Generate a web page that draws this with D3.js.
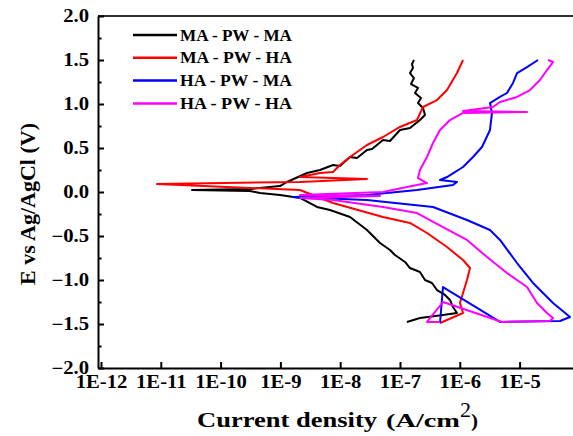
<!DOCTYPE html>
<html>
<head>
<meta charset="utf-8">
<script src="https://cdn.jsdelivr.net/npm/d3@7"></script>
<style>
  body { margin: 0; background: #fff; }
  svg text { font-family: "Liberation Serif", "Times New Roman", serif; font-weight: bold; }
  .axis path, .axis line { stroke: #000; stroke-width: 2; }
  .axis text { font-size: 18px; fill: #000; }
  .curve { fill: none; stroke-width: 2; stroke-linejoin: round; }
</style>
</head>
<body>
<div class="chart"></div>
<script>
// series: [log10 current density (A/cm2), potential (V vs Ag/AgCl)]
const seriesNames = ["MA - PW - MA", "MA - PW - HA", "HA - PW - MA", "HA - PW - HA"];
const seriesColors = ["#000000", "#ff0000", "#0000ff", "#ff00ff"];

const maPwMa = [
  [-6.883, -1.477], [-6.666, -1.432], [-6.281, -1.398], [-6.047, -1.375], [-6.114, -1.307],
  [-6.164, -1.227], [-6.247, -1.170], [-6.381, -1.114], [-6.465, -1.034], [-6.582, -1.0],
  [-6.666, -0.909], [-6.833, -0.864], [-6.916, -0.795], [-7.084, -0.716], [-7.167, -0.659],
  [-7.334, -0.580], [-7.552, -0.432], [-7.836, -0.284], [-8.171, -0.205], [-8.388, -0.170],
  [-8.672, -0.068], [-9.007, -0.034], [-9.341, -0.011], [-9.508, 0.011], [-10.478, 0.023],
  [-9.508, 0.034], [-9.007, 0.068], [-8.890, 0.114], [-8.555, 0.216], [-8.338, 0.25],
  [-8.120, 0.307], [-8.003, 0.295], [-7.836, 0.398], [-7.719, 0.386], [-7.552, 0.477],
  [-7.468, 0.489], [-7.284, 0.591], [-7.167, 0.580], [-7.0, 0.705], [-6.833, 0.727],
  [-6.666, 0.818], [-6.582, 0.875], [-6.615, 0.955], [-6.699, 1.011], [-6.649, 1.068],
  [-6.749, 1.125], [-6.699, 1.182], [-6.816, 1.227], [-6.766, 1.295], [-6.833, 1.352],
  [-6.783, 1.409], [-6.799, 1.455], [-6.766, 1.50]
];

const maPwHa = [
  [-6.331, -1.489], [-6.214, -1.455], [-5.946, -1.375], [-5.997, -1.261], [-5.946, -1.148],
  [-5.880, -1.0], [-5.829, -0.864], [-5.946, -0.773], [-6.214, -0.625], [-6.548, -0.466],
  [-6.833, -0.352], [-7.284, -0.284], [-8.120, -0.125], [-8.672, 0.023], [-11.064, 0.091],
  [-8.672, 0.114], [-7.552, 0.148], [-8.672, 0.170], [-8.338, 0.216], [-8.120, 0.227],
  [-8.003, 0.307], [-7.836, 0.398], [-7.552, 0.534], [-7.284, 0.625], [-7.0, 0.739],
  [-6.716, 0.818], [-6.615, 0.966], [-6.381, 1.045], [-6.214, 1.159], [-6.047, 1.352],
  [-5.946, 1.50]
];

const haPwMa = [
  [-6.331, -1.489], [-6.281, -1.080], [-5.328, -1.477], [-4.324, -1.466], [-4.157, -1.420],
  [-4.441, -1.261], [-4.776, -1.034], [-5.043, -0.807], [-5.328, -0.545], [-5.495, -0.432],
  [-5.880, -0.318], [-6.448, -0.170], [-7.552, -0.091], [-8.789, -0.057], [-7.552, -0.034],
  [-6.716, 0.023], [-6.114, 0.080], [-6.047, 0.114], [-6.331, 0.136], [-6.214, 0.170],
  [-5.946, 0.284], [-5.779, 0.398], [-5.629, 0.511], [-5.495, 0.705], [-5.462, 0.898],
  [-5.495, 1.011], [-5.328, 1.080], [-5.211, 1.125], [-5.110, 1.239], [-5.043, 1.352],
  [-4.876, 1.42], [-4.692, 1.50]
];

const haPwHa = [
  [-6.331, -1.477], [-6.548, -1.477], [-6.281, -1.25], [-5.294, -1.477], [-4.492, -1.466],
  [-4.441, -1.432], [-4.542, -1.375], [-4.709, -1.261], [-4.876, -1.080], [-5.211, -0.920],
  [-5.545, -0.739], [-5.880, -0.545], [-6.281, -0.398], [-6.716, -0.239], [-7.284, -0.170],
  [-8.120, -0.091], [-8.672, -0.068], [-7.334, -0.045], [-8.672, -0.034], [-7.284, 0],
  [-6.883, 0.057], [-6.548, 0.102], [-6.699, 0.159], [-6.666, 0.25], [-6.548, 0.398],
  [-6.448, 0.557], [-6.331, 0.705], [-6.164, 0.818], [-5.946, 0.898], [-4.876, 0.909],
  [-5.946, 0.920], [-5.445, 0.966], [-5.328, 1.023], [-5.043, 1.080], [-4.826, 1.159],
  [-4.659, 1.273], [-4.542, 1.386], [-4.441, 1.477], [-4.525, 1.50]
];

const xTickExps = [-12, -11, -10, -9, -8, -7, -6, -5];
const yTicks = [-2.0, -1.5, -1.0, -0.5, 0.0, 0.5, 1.0, 1.5, 2.0];
const yMinorTicks = [-1.75, -1.25, -0.75, -0.25, 0.25, 0.75, 1.25, 1.75];

const allSeries = [maPwMa, maPwHa, haPwMa, haPwHa];

const w = 573, h = 436;
const margin = { top: 16, right: 0, bottom: 68, left: 98 };
const width = w - margin.left - margin.right;
const height = h - margin.top - margin.bottom;
// the original picture is a bit stretched sideways, so the text is too
const stretch = 1.15;

const x = d3.scaleLog()
  .domain([Math.pow(10, -12.05), Math.pow(10, -4.107)])
  .range([0, width]);
const y = d3.scaleLinear()
  .domain([-2, 2])
  .range([height, 0]);

const svg = d3.select(".chart").append("svg")
  .attr("width", w)
  .attr("height", h);

const chart = svg.append("g")
  .attr("transform", "translate(" + margin.left + "," + margin.top + ")");

// top frame line
chart.append("line")
  .attr("x1", 0).attr("x2", width)
  .attr("y1", 0).attr("y2", 0)
  .attr("stroke", "#333").attr("stroke-width", 2);

// minor y ticks
chart.append("g")
  .classed("axis", true)
  .call(d3.axisLeft(y).tickValues(yMinorTicks).tickSize(-3.5).tickFormat(""))
  .select(".domain").remove();

// y axis
chart.append("g")
  .classed("axis", true)
  .call(d3.axisLeft(y)
    .tickValues(yTicks)
    .tickSizeInner(-6)
    .tickSizeOuter(0)
    .tickPadding(9)
    .tickFormat(d3.format(".1f")))
  .selectAll("text")
    .attr("x", -9 / stretch)
    .attr("transform", "scale(" + stretch + ",1)");

// x axis
chart.append("g")
  .classed("axis", true)
  .attr("transform", "translate(0," + height + ")")
  .call(d3.axisBottom(x)
    .tickValues(xTickExps.map(e => Math.pow(10, e)))
    .tickSizeInner(-6)
    .tickSizeOuter(0)
    .tickPadding(7)
    .tickFormat(d => "1E" + Math.round(Math.log10(d))))
  .selectAll("text")
    .attr("transform", "scale(" + stretch + ",1)");

// curves
const line = d3.line()
  .x(d => x(Math.pow(10, d[0])))
  .y(d => y(d[1]));

chart.selectAll(".curve")
  .data(allSeries)
  .enter()
  .append("path")
  .classed("curve", true)
  .attr("d", line)
  .attr("stroke", (d, i) => seriesColors[i]);

// legend
const legend = svg.append("g").attr("transform", "translate(133,35)");
seriesNames.forEach((name, i) => {
  const row = legend.append("g").attr("transform", "translate(0," + (i * 22.8) + ")");
  row.append("line")
    .attr("x1", 0).attr("x2", 44)
    .attr("y1", 0).attr("y2", 0)
    .attr("stroke", seriesColors[i])
    .attr("stroke-width", 2.5);
  row.append("text")
    .attr("x", 47)
    .attr("dy", "0.35em")
    .attr("textLength", 112)
    .attr("lengthAdjust", "spacingAndGlyphs")
    .style("font-size", "16px")
    .text(name);
});

// axis titles
svg.append("text")
  .attr("transform", "translate(35,204) rotate(-90)")
  .style("text-anchor", "middle")
  .style("font-size", "22px")
  .text("E vs Ag/AgCl (V)");

const xt = svg.append("g");
xt.append("text")
  .attr("x", 197).attr("y", 427)
  .attr("textLength", 180).attr("lengthAdjust", "spacingAndGlyphs")
  .style("font-size", "22px")
  .text("Current density");
xt.append("text")
  .attr("x", 386).attr("y", 427)
  .attr("textLength", 74).attr("lengthAdjust", "spacingAndGlyphs")
  .style("font-size", "18px")
  .text("(A/cm");
xt.append("text")
  .attr("x", 460).attr("y", 417)
  .attr("textLength", 11).attr("lengthAdjust", "spacingAndGlyphs")
  .style("font-size", "21px")
  .style("font-weight", "normal")
  .text("2");
xt.append("text")
  .attr("x", 471).attr("y", 427)
  .attr("textLength", 7).attr("lengthAdjust", "spacingAndGlyphs")
  .style("font-size", "18px")
  .text(")");
</script>
</body>
</html>
